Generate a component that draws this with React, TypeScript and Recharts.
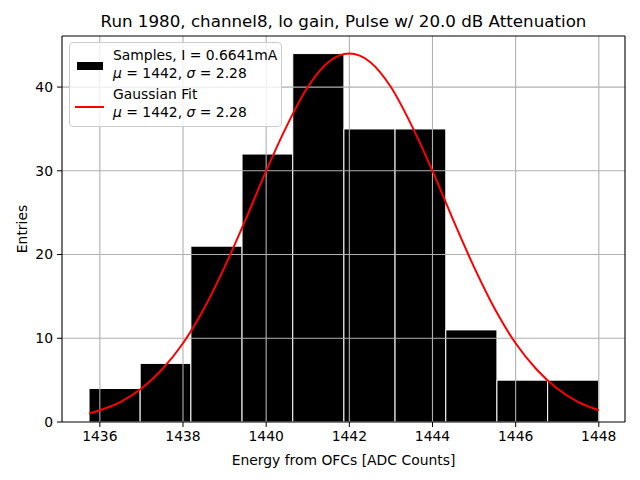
import React from 'react';
import { ComposedChart, Line, XAxis, YAxis, ReferenceArea, ReferenceLine, Label } from 'recharts';

// histogram bins (edges) and entries per bin
const binEdges = [1435.74, 1436.97, 1438.19, 1439.42, 1440.64, 1441.87, 1443.1, 1444.32, 1445.55, 1446.77, 1448.0];
const counts = [4, 7, 21, 32, 44, 35, 35, 11, 5, 5];

// gaussian fit curve
const fitX = [1435.74, 1436, 1436.5, 1437, 1437.5, 1438, 1438.5, 1439, 1439.5, 1440, 1440.5, 1441, 1441.5, 1442,
  1442.5, 1443, 1443.5, 1444, 1444.5, 1445, 1445.5, 1446, 1446.5, 1447, 1447.5, 1448];
const fitY = [1.0, 1.4, 2.4, 4.0, 6.3, 9.4, 13.5, 18.5, 24.1, 30.0, 35.4, 40.0, 43.0, 44.0,
  43.0, 40.0, 35.4, 30.0, 24.1, 18.5, 13.5, 9.4, 6.3, 4.0, 2.4, 1.4];

const xTicks = [1436, 1438, 1440, 1442, 1444, 1446, 1448];
const yTicks = [0, 10, 20, 30, 40];

const title = 'Run 1980, channel8, lo gain, Pulse w/ 20.0 dB Attenuation';
const sampleLabel = 'Samples, I = 0.6641mA';
const fitLabel = 'Gaussian Fit';
const fitParams = { mu: '1442', sigma: '2.28' };

const font = '"DejaVu Sans", sans-serif';
const xDomain = [1435.09, 1448.63];
const yDomain = [0, 46.1];

const data = fitX.map((x, i) => ({ x, fit: fitY[i] }));

const Params = () => (
  <div>
    <i>μ</i> = {fitParams.mu}, <i>σ</i> = {fitParams.sigma}
  </div>
);

const Legend2 = () => (
  <div
    style={{
      position: 'absolute', left: 69, top: 42, width: 213, height: 85,
      border: '1px solid #cccccc', borderRadius: 4, background: 'rgba(255,255,255,0.8)',
      fontFamily: font, fontSize: 13.9, color: '#000', boxSizing: 'border-box',
    }}
  >
    <div style={{ position: 'absolute', left: 7, top: 19, width: 26, height: 8, background: '#000' }} />
    <div style={{ position: 'absolute', left: 5, top: 63, width: 29, height: 2, background: 'red' }} />
    <div style={{ position: 'absolute', left: 43, top: 3, lineHeight: '18px' }}>
      <div>{sampleLabel}</div>
      <Params />
      <div style={{ marginTop: 3 }}>{fitLabel}</div>
      <Params />
    </div>
  </div>
);

const App = () => {
  const tick = { fill: '#000', fontSize: 13.9, fontFamily: font };
  return (
    <div style={{ position: 'absolute', left: 0, top: 0, width: 640, height: 480, background: '#fff' }}>
      <div
        style={{
          position: 'absolute', left: 62, top: 11, width: 563, textAlign: 'center',
          fontFamily: font, fontSize: 16.7, color: '#000',
        }}
      >
        {title}
      </div>
      <ComposedChart width={640} height={480} data={data} margin={{ top: 36, right: 15, bottom: 0, left: 0 }}>
        <XAxis
          dataKey="x" type="number" domain={xDomain} allowDataOverflow ticks={xTicks}
          height={58} tick={tick} tickSize={5} tickMargin={4}
          axisLine={{ stroke: '#000', strokeWidth: 1.1 }} tickLine={{ stroke: '#000' }}
        >
          <Label value="Energy from OFCs [ADC Counts]" position="insideBottom" offset={15}
            style={{ fill: '#000', fontSize: 13.9, fontFamily: font }} />
        </XAxis>
        <YAxis
          type="number" domain={yDomain} allowDataOverflow ticks={yTicks} width={62}
          tick={tick} tickSize={5} tickMargin={4}
          axisLine={{ stroke: '#000', strokeWidth: 1.1 }} tickLine={{ stroke: '#000' }}
        >
          <Label value="Entries" angle={-90} position="center" dx={-9}
            style={{ fill: '#000', fontSize: 13.9, fontFamily: font, textAnchor: 'middle' }} />
        </YAxis>
        {counts.map((c, i) => (
          <ReferenceArea key={'b' + i} x1={binEdges[i]} x2={binEdges[i + 1]} y1={0} y2={c}
            fill="#000" fillOpacity={1} stroke="#fff" strokeWidth={1} ifOverflow="visible" />
        ))}
        {xTicks.map((t) => (
          <ReferenceLine key={'gx' + t} x={t} stroke="#b0b0b0" strokeWidth={1.1} />
        ))}
        {yTicks.filter((t) => t > 0).map((t) => (
          <ReferenceLine key={'gy' + t} y={t} stroke="#b0b0b0" strokeWidth={1.1} />
        ))}
        <Line dataKey="fit" type="monotone" stroke="red" strokeWidth={2} dot={false} isAnimationActive={false} />
        <ReferenceLine x={xDomain[1]} stroke="#000" strokeWidth={1.1} ifOverflow="visible" />
        <ReferenceLine y={yDomain[1]} stroke="#000" strokeWidth={1.1} ifOverflow="visible" />
      </ComposedChart>
      <Legend2 />
    </div>
  );
};

export default App;
